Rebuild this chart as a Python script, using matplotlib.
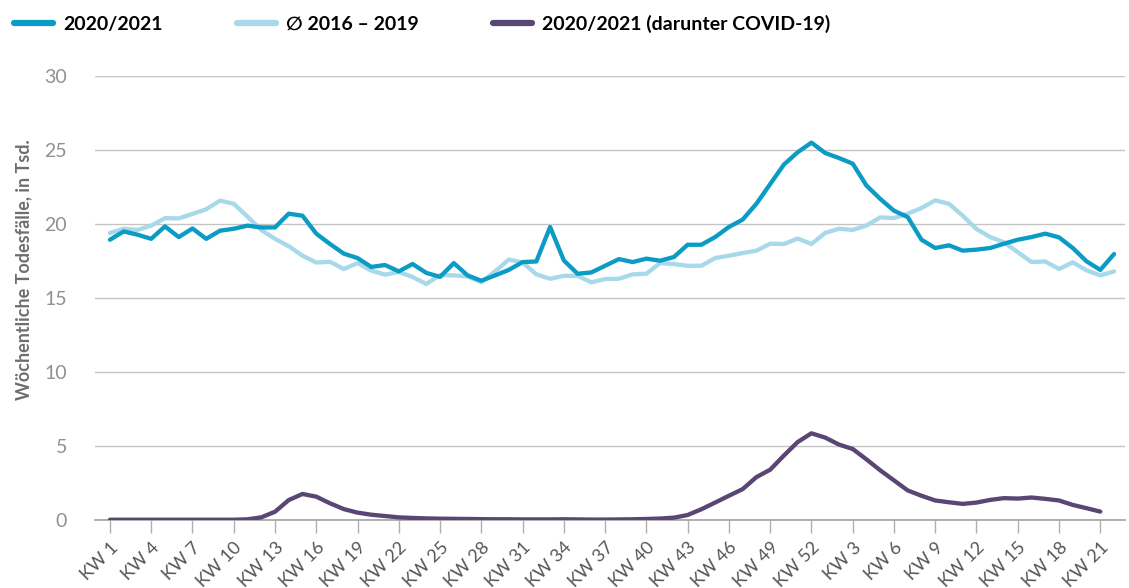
import matplotlib
matplotlib.use("Agg")
import numpy as np
from matplotlib import pyplot as plt

# weekly deaths in thousands, KW 1/2020 .. KW 22/2021
weeks = ["KW %d" % w for w in range(1, 53)] + ["KW %d" % w for w in range(1, 23)]

deaths_2020_21 = [18.94, 19.5, 19.28, 19.0, 19.84, 19.12, 19.7, 19.0, 19.55, 19.68,
                  19.89, 19.77, 19.77, 20.7, 20.56, 19.35, 18.65, 18.0, 17.7, 17.1,
                  17.23, 16.8, 17.3, 16.7, 16.43, 17.36, 16.53, 16.17, 16.53, 16.9,
                  17.43, 17.47, 19.8, 17.54, 16.64, 16.73, 17.18, 17.63, 17.43, 17.66,
                  17.52, 17.77, 18.6, 18.6, 19.12, 19.8, 20.3, 21.37, 22.7, 24.02,
                  24.85, 25.5, 24.8, 24.46, 24.08, 22.6, 21.7, 20.9, 20.47, 18.94,
                  18.38, 18.56, 18.2, 18.27, 18.38, 18.67, 18.94, 19.12, 19.35, 19.1,
                  18.38, 17.48, 16.9, 17.97]

avg_2016_19 = [19.39, 19.68, 19.6, 19.89, 20.4, 20.38, 20.68, 21.0, 21.58, 21.37,
               20.5, 19.6, 19.0, 18.5, 17.86, 17.4, 17.45, 16.96, 17.36, 16.85,
               16.58, 16.76, 16.42, 15.95, 16.55, 16.53, 16.46, 16.06, 16.8, 17.6,
               17.4, 16.6, 16.3, 16.5, 16.5, 16.06, 16.28, 16.3, 16.6, 16.64,
               17.36, 17.3, 17.18, 17.18, 17.7, 17.86, 18.04, 18.2, 18.67, 18.65,
               19.02, 18.65, 19.4, 19.68, 19.6, 19.9, 20.45, 20.4, 20.7, 21.08,
               21.6, 21.37, 20.56, 19.66, 19.12, 18.76, 18.1, 17.43, 17.47, 16.96,
               17.41, 16.87, 16.53, 16.8]

covid_2020_21 = [0.02, 0.02, 0.02, 0.02, 0.02, 0.02, 0.02, 0.02, 0.02, 0.02,
                 0.05, 0.18, 0.56, 1.35, 1.76, 1.58, 1.13, 0.74, 0.5, 0.36,
                 0.27, 0.18, 0.14, 0.11, 0.09, 0.08, 0.07, 0.06, 0.05, 0.05,
                 0.04, 0.04, 0.04, 0.05, 0.04, 0.03, 0.03, 0.04, 0.05, 0.07,
                 0.1, 0.16, 0.34, 0.73, 1.18, 1.64, 2.09, 2.9, 3.4, 4.36,
                 5.27, 5.86, 5.57, 5.1, 4.8, 4.1, 3.36, 2.68, 2.0, 1.64,
                 1.32, 1.2, 1.09, 1.18, 1.36, 1.48, 1.45, 1.52, 1.43, 1.32,
                 1.02, 0.8, 0.57]

labels = ["2020/2021", "\u2205 2016 \u2013 2019", "2020/2021 (darunter COVID-19)"]
colors = ["#0a9cc5", "#a7d9eb", "#5a4675"]

plt.rcParams['font.family'] = ['Lato', 'DejaVu Sans']

fig = plt.figure(figsize=(11.29, 5.88), dpi=100)
ax = fig.add_axes([0.0841, 0.1156, 0.9124, 0.7551])

x = np.arange(len(weeks))
lw = 3.1
ax.plot(x, avg_2016_19, color=colors[1], lw=lw, solid_joinstyle='round',
        solid_capstyle='round', label=labels[1], zorder=3)
ax.plot(x, deaths_2020_21, color=colors[0], lw=lw, solid_joinstyle='round',
        solid_capstyle='round', label=labels[0], zorder=4)
ax.plot(x[:len(covid_2020_21)], covid_2020_21, color=colors[2], lw=lw,
        solid_joinstyle='round', solid_capstyle='round', label=labels[2], zorder=4)

ax.set_ylim(0, 30)
ax.set_xlim(-1.09, 73.8)
ax.set_yticks(range(0, 31, 5))
ax.yaxis.grid(True, color='#c4c4c4', lw=1.0)
ax.set_axisbelow(True)
for s in ['top', 'right', 'left']:
    ax.spines[s].set_visible(False)
ax.spines['bottom'].set_color('#a8a8a8')
ax.spines['bottom'].set_linewidth(1.3)
ax.tick_params(axis='y', length=0, pad=20, labelsize=14, labelcolor='#909090')
ticks = x[::3]
ax.set_xticks(ticks)
ax.set_xticklabels([weeks[i] for i in ticks], rotation=45, ha='right',
                   rotation_mode='anchor')
ax.tick_params(axis='x', length=9, width=1.0, color='#b0b0b0', pad=5,
               labelsize=13, labelcolor='#555555')

fig.text(0.021, 0.541, "W\u00f6chentliche Todesf\u00e4lle, in Tsd.", rotation=90,
         ha='center', va='center', fontsize=13, fontweight='bold', color='#6e6e6e')

h = ax.get_legend_handles_labels()
order = [1, 0, 2]
leg = fig.legend([h[0][i] for i in order], [h[1][i] for i in order],
                 loc='upper left', bbox_to_anchor=(0.0035, 0.9915), ncol=3,
                 frameon=False, handlelength=2.0, handletextpad=0.55,
                 columnspacing=3.8, borderaxespad=0.0, borderpad=0.5,
                 prop={'weight': 'bold', 'size': 14})
for line in leg.get_lines():
    line.set_linewidth(4.5)
    line.set_solid_capstyle('round')

fig.savefig("out.png", dpi=100)
